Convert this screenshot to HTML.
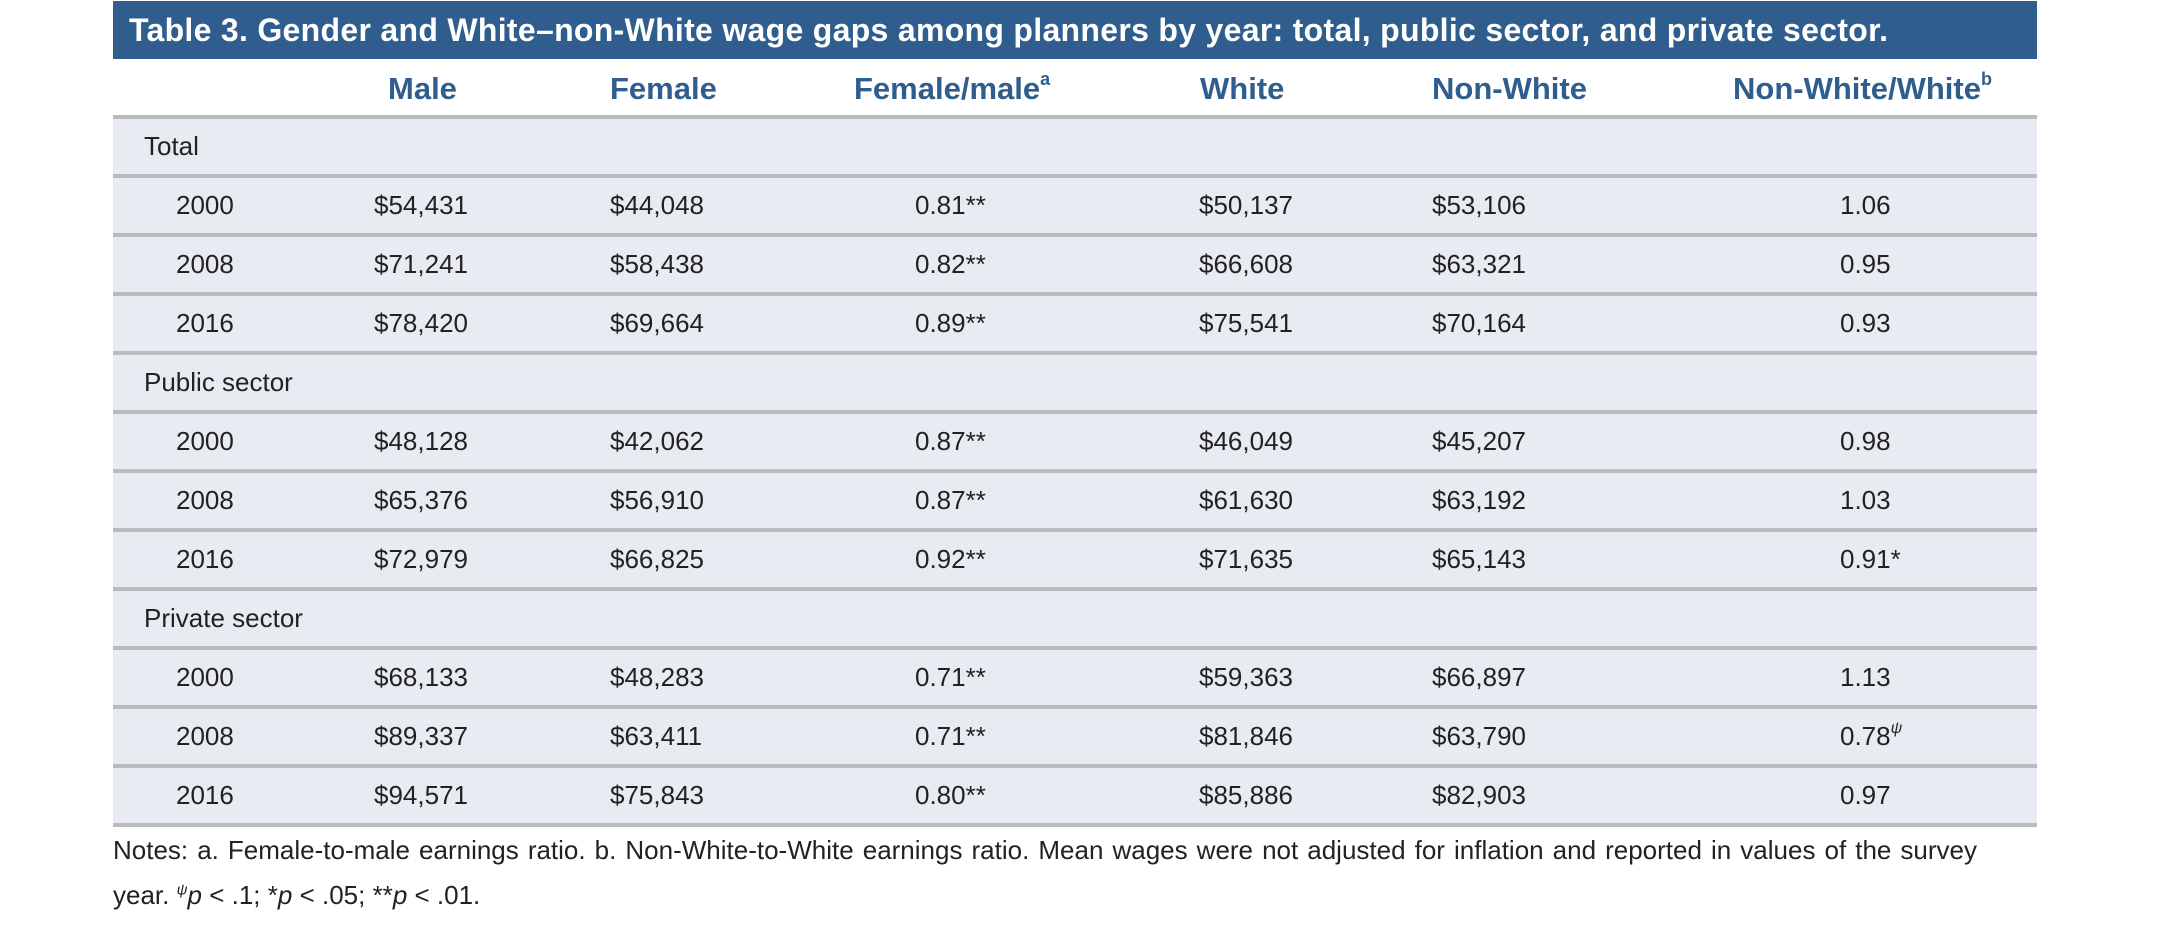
<!DOCTYPE html>
<html><head><meta charset="utf-8"><style>
body{margin:0;width:2174px;height:938px;background:#fff;position:relative;overflow:hidden;font-family:"Liberation Sans",sans-serif;}
.title{position:absolute;left:113px;top:1px;width:1924px;height:58px;background:#2f5e8e;color:#fff;font-weight:bold;font-size:32px;line-height:58px;box-sizing:border-box;padding-left:16px;white-space:nowrap;letter-spacing:0.3px}
.hdr{position:absolute;top:64px;height:50px;line-height:50px;color:#2f5e8e;font-weight:bold;font-size:31px;white-space:nowrap}
.hdr sup{font-size:18px;vertical-align:14px;line-height:0}
.row{position:absolute;left:113px;width:1924px;height:55px;background:#e8ebf1;border-top:4px solid #b9bbbe}
.row span{position:absolute;top:0;line-height:55px;font-size:26px;color:#222;white-space:nowrap}
.row sup{font-size:16px;vertical-align:12px;line-height:0;font-style:italic}
.bottom{position:absolute;left:113px;top:823px;width:1924px;height:4px;background:#b9bbbe}
.notes{position:absolute;left:113px;font-size:26px;color:#222;white-space:nowrap}
</style></head><body>
<div class="title">Table 3. Gender and White–non-White wage gaps among planners by year: total, public sector, and private sector.</div>
<div class="hdr" style="left:388px">Male</div>
<div class="hdr" style="left:610px">Female</div>
<div class="hdr" style="left:854px">Female/male<sup>a</sup></div>
<div class="hdr" style="left:1200px">White</div>
<div class="hdr" style="left:1432px">Non-White</div>
<div class="hdr" style="left:1733px">Non-White/White<sup>b</sup></div>

<div class="row" style="top:115px"><span style="left:31px">Total</span></div>
<div class="row" style="top:174px"><span style="left:63px">2000</span><span style="left:261px">$54,431</span><span style="left:497px">$44,048</span><span style="left:802px">0.81**</span><span style="left:1086px">$50,137</span><span style="left:1319px">$53,106</span><span style="left:1727px">1.06</span></div>
<div class="row" style="top:233px"><span style="left:63px">2008</span><span style="left:261px">$71,241</span><span style="left:497px">$58,438</span><span style="left:802px">0.82**</span><span style="left:1086px">$66,608</span><span style="left:1319px">$63,321</span><span style="left:1727px">0.95</span></div>
<div class="row" style="top:292px"><span style="left:63px">2016</span><span style="left:261px">$78,420</span><span style="left:497px">$69,664</span><span style="left:802px">0.89**</span><span style="left:1086px">$75,541</span><span style="left:1319px">$70,164</span><span style="left:1727px">0.93</span></div>
<div class="row" style="top:351px"><span style="left:31px">Public sector</span></div>
<div class="row" style="top:410px"><span style="left:63px">2000</span><span style="left:261px">$48,128</span><span style="left:497px">$42,062</span><span style="left:802px">0.87**</span><span style="left:1086px">$46,049</span><span style="left:1319px">$45,207</span><span style="left:1727px">0.98</span></div>
<div class="row" style="top:469px"><span style="left:63px">2008</span><span style="left:261px">$65,376</span><span style="left:497px">$56,910</span><span style="left:802px">0.87**</span><span style="left:1086px">$61,630</span><span style="left:1319px">$63,192</span><span style="left:1727px">1.03</span></div>
<div class="row" style="top:528px"><span style="left:63px">2016</span><span style="left:261px">$72,979</span><span style="left:497px">$66,825</span><span style="left:802px">0.92**</span><span style="left:1086px">$71,635</span><span style="left:1319px">$65,143</span><span style="left:1727px">0.91*</span></div>
<div class="row" style="top:587px"><span style="left:31px">Private sector</span></div>
<div class="row" style="top:646px"><span style="left:63px">2000</span><span style="left:261px">$68,133</span><span style="left:497px">$48,283</span><span style="left:802px">0.71**</span><span style="left:1086px">$59,363</span><span style="left:1319px">$66,897</span><span style="left:1727px">1.13</span></div>
<div class="row" style="top:705px"><span style="left:63px">2008</span><span style="left:261px">$89,337</span><span style="left:497px">$63,411</span><span style="left:802px">0.71**</span><span style="left:1086px">$81,846</span><span style="left:1319px">$63,790</span><span style="left:1727px">0.78<sup>ψ</sup></span></div>
<div class="row" style="top:764px"><span style="left:63px">2016</span><span style="left:261px">$94,571</span><span style="left:497px">$75,843</span><span style="left:802px">0.80**</span><span style="left:1086px">$85,886</span><span style="left:1319px">$82,903</span><span style="left:1727px">0.97</span></div>
<div class="bottom"></div>

<div class="notes" style="top:835px;width:1864px;text-align:justify;text-align-last:justify;white-space:normal">Notes: a. Female-to-male earnings ratio. b. Non-White-to-White earnings ratio. Mean wages were not adjusted for inflation and reported in values of the survey</div>
<div class="notes" style="top:880px">year. <sup style="font-size:15px;font-style:italic">ψ</sup><i>p</i> &lt; .1; *<i>p</i> &lt; .05; **<i>p</i> &lt; .01.</div>
</body></html>
